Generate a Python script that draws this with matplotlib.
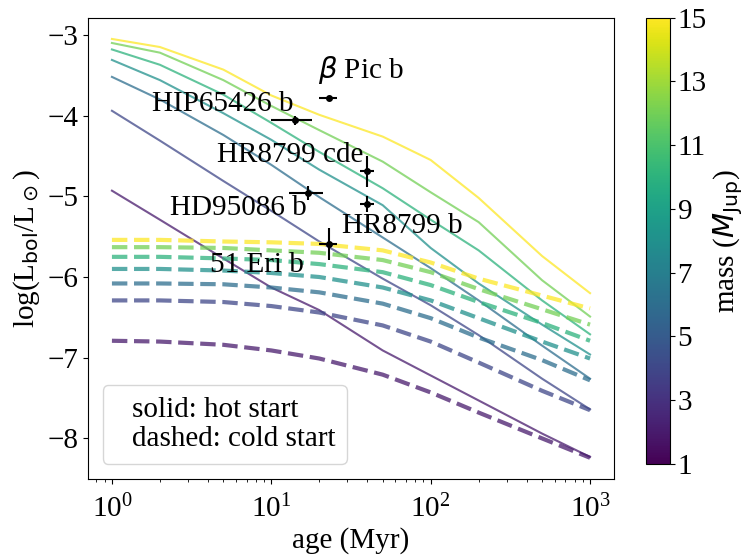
import numpy as np
import matplotlib
matplotlib.use("Agg")
import matplotlib.pyplot as plt
from matplotlib.lines import Line2D

plt.rcParams['font.family'] = ['Liberation Serif', 'DejaVu Serif']
plt.rcParams['mathtext.fontset'] = 'dejavusans'
FS = 21

# ---- data ----
ages = [1, 2, 5, 10, 20, 50, 100, 200, 500, 1000]
masses = [2, 4, 6, 8, 10, 12, 15]

hot_2 = [-4.93, -5.29, -5.77, -6.13, -6.41, -6.91, -7.22, -7.53, -7.94, -8.23]
hot_4 = [-3.94, -4.31, -4.81, -5.18, -5.56, -6.02, -6.35, -6.72, -7.26, -7.64]
hot_6 = [-3.52, -3.80, -4.24, -4.61, -5.01, -5.51, -5.89, -6.29, -6.85, -7.26]
hot_8 = [-3.31, -3.56, -3.97, -4.30, -4.67, -5.11, -5.64, -6.08, -6.59, -6.96]
hot_10 = [-3.18, -3.37, -3.74, -4.09, -4.45, -4.90, -5.29, -5.67, -6.29, -6.71]
hot_12 = [-3.10, -3.22, -3.56, -3.88, -4.18, -4.57, -4.95, -5.32, -6.04, -6.49]
hot_15 = [-3.05, -3.15, -3.43, -3.75, -3.99, -4.26, -4.55, -5.02, -5.74, -6.20]

cold_2 = [-6.79, -6.80, -6.84, -6.91, -7.01, -7.21, -7.43, -7.68, -8.00, -8.24]
cold_4 = [-6.29, -6.29, -6.31, -6.36, -6.44, -6.60, -6.80, -7.06, -7.41, -7.65]
cold_6 = [-6.08, -6.08, -6.09, -6.13, -6.19, -6.33, -6.51, -6.75, -7.03, -7.28]
cold_8 = [-5.90, -5.90, -5.92, -5.95, -6.00, -6.13, -6.29, -6.51, -6.80, -7.01]
cold_10 = [-5.75, -5.75, -5.77, -5.79, -5.84, -5.94, -6.10, -6.31, -6.57, -6.79]
cold_12 = [-5.63, -5.63, -5.64, -5.67, -5.70, -5.79, -5.94, -6.15, -6.40, -6.59]
cold_15 = [-5.54, -5.54, -5.56, -5.57, -5.59, -5.67, -5.82, -6.02, -6.23, -6.39]

hot = [hot_2, hot_4, hot_6, hot_8, hot_10, hot_12, hot_15]
cold = [cold_2, cold_4, cold_6, cold_8, cold_10, cold_12, cold_15]

planet_names = ["$\\beta$ Pic b", "HIP65426 b", "HR8799 cde", "HR8799 b", "HD95086 b", "51 Eri b"]
planet_age = [23, 14, 40, 40, 17, 23]
planet_age_err = [3, 4, 4, 4, 4, 3]
planet_logL = [-3.78, -4.06, -4.69, -5.09, -4.96, -5.59]
planet_logL_err = [0.02, 0.06, 0.19, 0.10, 0.09, 0.20]

# label anchor (age, logL) and alignment
label_age = [19.7, 13.8, 37.7, 27.7, 16.7, 15.9]
label_logL = [-3.53, -3.94, -4.57, -5.46, -5.23, -5.94]
label_ha = ['left', 'right', 'right', 'left', 'right', 'right']

mass_min, mass_max = 1, 15
cbar_ticks = [1, 3, 5, 7, 9, 11, 13, 15]

# ---- plot ----
fig = plt.figure(figsize=(7.46, 5.56), dpi=100)
ax = fig.add_axes([0.118, 0.139, 0.705, 0.8286])
cax = fig.add_axes([0.866, 0.166, 0.032, 0.802])

cmap = plt.get_cmap('viridis')
norm = matplotlib.colors.Normalize(vmin=mass_min, vmax=mass_max)

for m, h, c in zip(masses, hot, cold):
    col = cmap(norm(m))
    ax.plot(ages, h, '-', color=col, lw=1.5, alpha=0.75)
    ax.plot(ages, c, '--', color=col, lw=3, alpha=0.75)

ax.errorbar(planet_age, planet_logL, xerr=planet_age_err, yerr=planet_logL_err,
            fmt='o', color='black', ms=4, elinewidth=1.5, capsize=0)

for name, a, l, ha in zip(planet_names, label_age, label_logL, label_ha):
    ax.text(a, l, name, ha=ha, va='baseline', fontsize=FS)

ax.set_xscale('log')
ax.set_xlabel('age (Myr)', fontsize=FS, labelpad=3)
ax.set_ylabel(r'log(L$_{\rm bol}$/L$_\odot$)', fontsize=FS)
ax.tick_params(labelsize=FS)
ax.tick_params(axis='x', which='major', pad=8)

handles = [Line2D([], [], linestyle='none'), Line2D([], [], linestyle='none')]
ax.legend(handles, ['solid: hot start', 'dashed: cold start'], loc='lower left',
          fontsize=FS, handlelength=0, handletextpad=0.6, labelspacing=0.1,
          borderpad=0.4)

sm = matplotlib.cm.ScalarMappable(norm=norm, cmap=cmap)
cb = fig.colorbar(sm, cax=cax, ticks=cbar_ticks)
cb.ax.tick_params(labelsize=FS, pad=2)
cb.set_label(r'mass ($M_{\rm Jup}$)', fontsize=FS, labelpad=3)

fig.savefig('out.png', dpi=100)
